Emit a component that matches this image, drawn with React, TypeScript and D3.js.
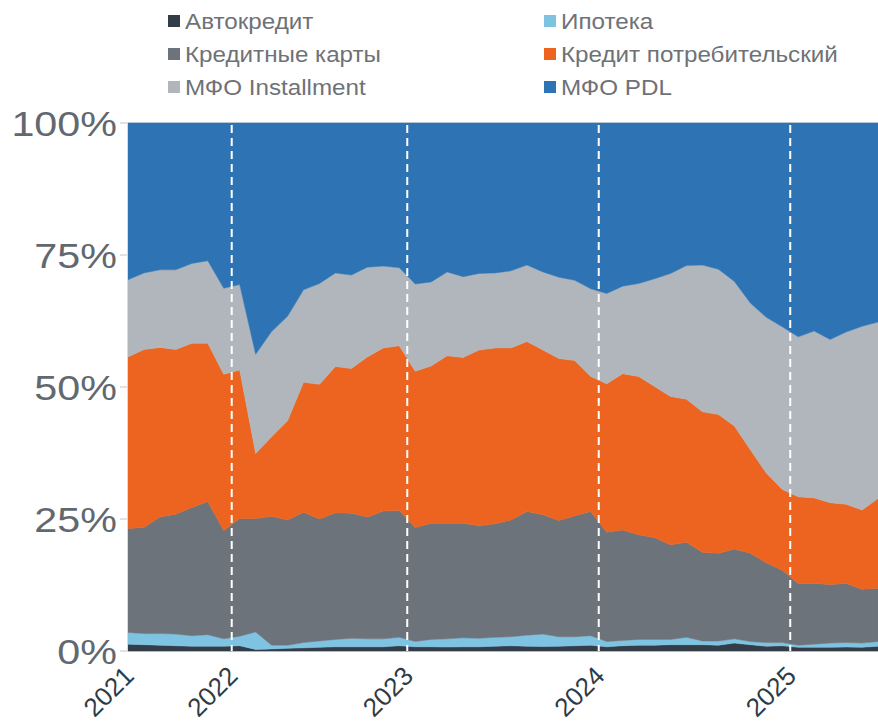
import React from "react";
import * as d3 from "d3";

// ---- Data (shares, %) : 48 monthly observations ----
const periods: number[] = d3.range(48);

const avto = [1.3, 1.2, 1.1, 1.0, 0.9, 0.9, 0.9, 1.0, 0.3, 0.4, 0.5, 0.6, 0.7, 0.8, 0.8, 0.8, 0.8, 1.0, 0.8, 0.8, 0.75, 0.8, 0.8, 0.9, 1.0, 0.9, 0.85, 0.9, 1.0, 1.1, 0.8, 1.0, 1.1, 1.1, 1.2, 1.2, 1.2, 1.1, 1.5, 1.2, 0.9, 1.0, 0.7, 0.7, 0.7, 0.75, 0.7, 0.9];
const ipoteka = [2.2, 2.1, 2.2, 2.2, 2.0, 2.2, 1.4, 1.8, 3.3, 0.7, 0.6, 1.0, 1.2, 1.4, 1.6, 1.5, 1.5, 1.6, 1.0, 1.4, 1.55, 1.7, 1.6, 1.7, 1.7, 2.1, 2.35, 1.8, 1.7, 1.8, 1.0, 1.0, 1.1, 1.1, 1.0, 1.4, 0.7, 0.8, 0.8, 0.6, 0.7, 0.6, 0.4, 0.6, 0.8, 0.85, 0.8, 0.9];
const karty = [19.7, 20.1, 22.1, 22.7, 24.3, 25.2, 20.5, 22.3, 21.5, 24.4, 23.7, 24.7, 23.1, 24.0, 23.7, 23.1, 24.2, 24.0, 21.6, 22.0, 21.9, 21.7, 21.3, 21.5, 22.1, 23.4, 22.6, 22.0, 22.9, 23.5, 20.7, 20.9, 19.8, 19.3, 17.9, 18.0, 16.8, 16.6, 17.0, 16.7, 15.1, 13.7, 11.7, 11.5, 11.1, 11.2, 10.2, 10.1];
const potreb = [32.5, 33.7, 32.1, 31.2, 31.1, 30.0, 29.6, 28.1, 12.3, 15.1, 18.8, 24.6, 25.5, 27.7, 27.4, 30.3, 30.9, 31.2, 29.6, 29.8, 31.7, 31.4, 33.3, 33.3, 32.6, 32.2, 31.2, 30.7, 29.4, 25.6, 28.1, 29.6, 30.0, 28.6, 28.1, 27.1, 26.6, 26.3, 23.3, 19.6, 17.0, 15.3, 16.4, 16.2, 15.5, 15.0, 15.0, 17.0];
const installment = [14.6, 14.5, 14.7, 15.1, 15.1, 15.6, 16.3, 16.2, 18.8, 19.9, 19.8, 17.5, 19.1, 17.7, 17.7, 17.0, 15.5, 14.8, 16.5, 15.9, 15.9, 15.3, 14.5, 14.2, 14.6, 14.5, 14.8, 15.4, 15.2, 16.6, 17.1, 16.6, 17.6, 20.4, 23.3, 25.3, 27.8, 27.5, 27.4, 27.8, 29.5, 30.8, 30.3, 31.6, 30.9, 32.6, 34.8, 33.4];
const pdl = [29.7, 28.4, 27.8, 27.8, 26.6, 26.1, 31.3, 30.6, 43.8, 39.5, 36.6, 31.6, 30.4, 28.4, 28.8, 27.3, 27.1, 27.4, 30.5, 30.1, 28.2, 29.1, 28.5, 28.4, 28.0, 26.9, 28.2, 29.2, 29.8, 31.4, 32.3, 30.9, 30.4, 29.5, 28.5, 27.0, 26.9, 27.7, 30.0, 34.1, 36.8, 38.6, 40.5, 39.4, 41.0, 39.6, 38.5, 37.7];

const seriesNames = ["Автокредит", "Ипотека", "Кредитные карты", "Кредит потребительский", "МФО Installment", "МФО PDL"];
const seriesColors = ["#333d48", "#7fc3e2", "#6c737b", "#ec6420", "#b0b6bb", "#2e74b4"];

const yearLabels = ["2021", "2022", "2023", "2024", "2025"];
const yearPositions = [0, 6.5, 17.5, 29.5, 41.5];
const yTicks = [0, 0.25, 0.5, 0.75, 1];

const W = 878;
const H = 726;

export default function App() {
  const seriesArrays = [avto, ipoteka, karty, potreb, installment, pdl];
  const table = periods.map((p, i) => {
    const row: any = { period: p };
    seriesNames.forEach((n, k) => (row[n] = seriesArrays[k][i]));
    return row;
  });
  const stack = d3.stack<any>().keys(seriesNames).offset(d3.stackOffsetExpand);
  const layers = stack(table);

  const x = d3.scaleLinear().domain([0, periods.length - 1]).range([128, 878]);
  const y = d3.scaleLinear().domain([0, 1]).range([651, 123]);

  const area = d3
    .area<any>()
    .x((d) => x(d.data.period))
    .y0((d) => y(d[0]))
    .y1((d) => y(d[1]));

  const font = "'Liberation Sans', Arial, sans-serif";

  return (
    <svg
      width={W}
      height={H}
      style={{ position: "absolute", left: 0, top: 0, background: "#fff" }}
      fontFamily={font}
    >
      {/* grid lines */}
      {yTicks.map((t) => (
        <line key={"g" + t} x1={120} x2={878} y1={y(t)} y2={y(t)} stroke="#d9d9d9" strokeWidth={1.5} />
      ))}
      {/* areas */}
      {layers.map((layer, k) => (
        <path key={seriesNames[k]} d={area(layer) || ""} fill={seriesColors[k]} stroke={seriesColors[k]} strokeWidth={0.5} />
      ))}
      {/* y axis line */}
      <line x1={127.5} x2={127.5} y1={123} y2={651} stroke="#d9d9d9" strokeWidth={1} />
      {/* year separators */}
      {yearPositions.slice(1).map((p) => (
        <line
          key={"v" + p}
          x1={x(p)}
          x2={x(p)}
          y1={125}
          y2={651}
          stroke="#ffffff"
          strokeWidth={2}
          strokeDasharray="8,5"
        />
      ))}
      {/* y labels */}
      {yTicks.map((t) => (
        <text
          key={"yl" + t}
          transform={`translate(117,${y(t)}) scale(1.18,1)`}
          dy="0.36em"
          textAnchor="end"
          fontSize={35}
          fill="#62686f"
        >
          {d3.format(".0%")(t)}
        </text>
      ))}
      {/* x labels */}
      {yearLabels.map((lab, i) => (
        <text
          key={lab}
          transform={`translate(${x(yearPositions[i]) + 1},${671}) rotate(-45)`}
          textAnchor="end"
          dy="0.35em"
          fontSize={26}
          fill="#2f3a45"
        >
          {lab}
        </text>
      ))}
      {/* legend */}
      {seriesNames.map((n, k) => {
        const col = k % 2;
        const row = Math.floor(k / 2);
        const lx = col === 0 ? 168 : 544;
        const ly = 21 + row * 33;
        return (
          <g key={"lg" + n}>
            <rect x={lx} y={ly - 6} width={12} height={12} fill={seriesColors[k]} />
            <text
              transform={`translate(${lx + 17},${ly}) scale(1.1,1)`}
              dy="0.36em"
              fontSize={22}
              fill="#6e7277"
            >
              {n}
            </text>
          </g>
        );
      })}
    </svg>
  );
}
